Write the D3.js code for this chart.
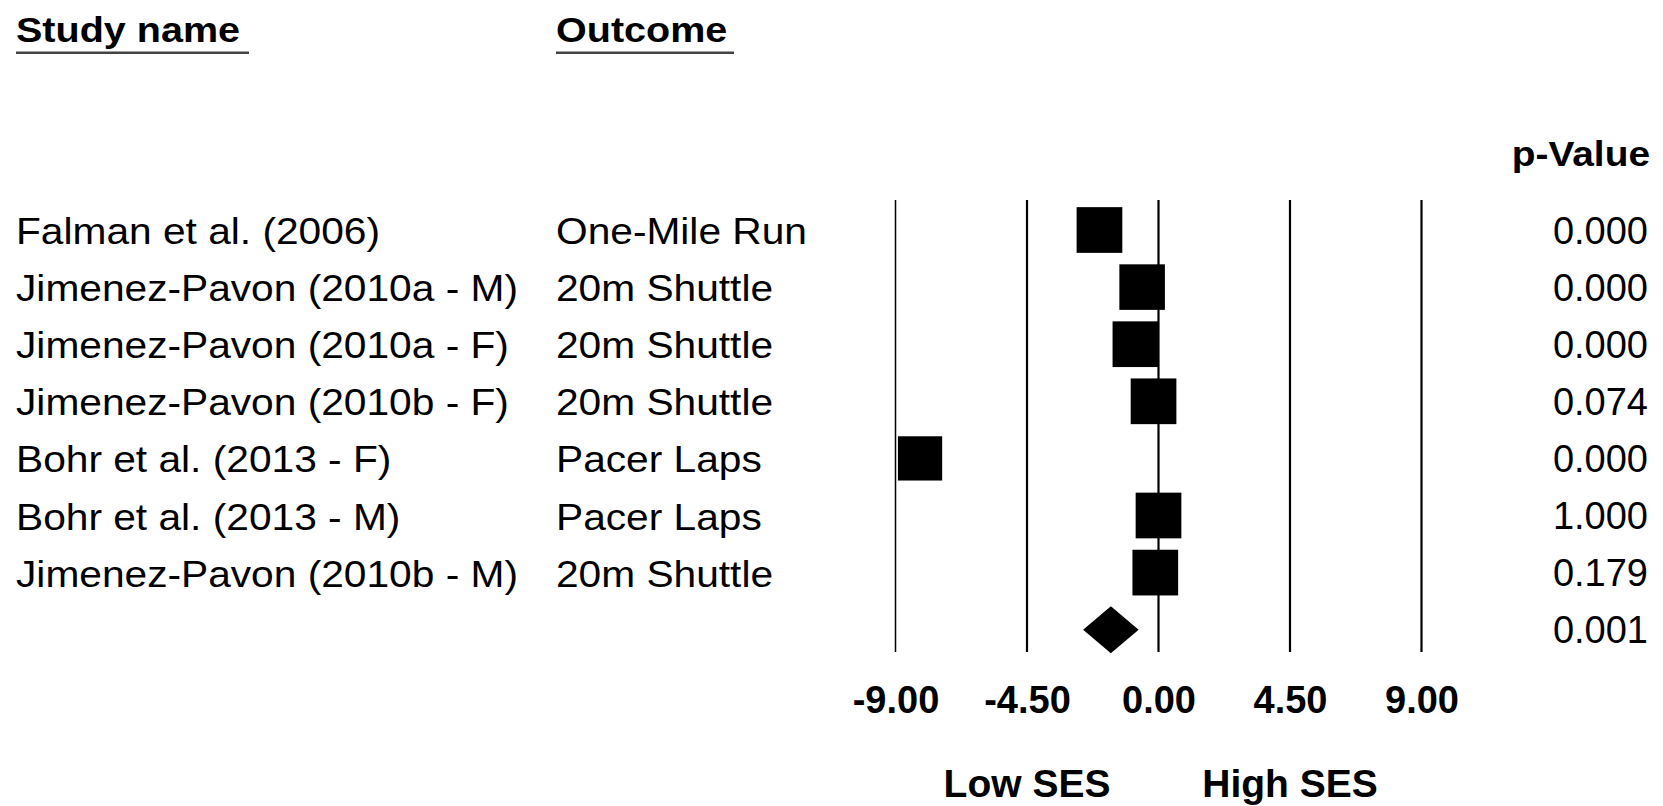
<!DOCTYPE html>
<html lang='en'>
  <head>
    <meta charset='utf-8'>
    <style type='text/css'>
      body {margin: 0; background-color: #fff;}
      svg text {font-family: Arial, "Liberation Sans", sans-serif; fill: #000;}
    </style>
  </head>
  <body>
    <svg id='chart' width='1663' height='806'></svg>

    <script src='https://cdnjs.cloudflare.com/ajax/libs/d3/7.8.5/d3.min.js'></script>
    <script type='text/javascript'>
        // study rows (top to bottom)
        var studies  = ["Falman et al. (2006)", "Jimenez-Pavon (2010a - M)", "Jimenez-Pavon (2010a - F)",
                        "Jimenez-Pavon (2010b - F)", "Bohr et al. (2013 - F)", "Bohr et al. (2013 - M)",
                        "Jimenez-Pavon (2010b - M)"];
        var outcomes = ["One-Mile Run", "20m Shuttle", "20m Shuttle", "20m Shuttle",
                        "Pacer Laps", "Pacer Laps", "20m Shuttle"];
        var effects  = [-2.02, -0.56, -0.79, -0.17, -8.16, 0.00, -0.11];
        var weights  = [14.5, 14.4, 14.5, 14.5, 13.6, 14.5, 14.5];
        var pValues  = ["0.000", "0.000", "0.000", "0.074", "0.000", "1.000", "0.179"];

        // combined effect
        var summary  = {est: -1.63, lower: -2.58, upper: -0.68, p: "0.001"};

        var ticks    = [-9, -4.5, 0, 4.5, 9];

        var svg = d3.select("#chart");

        var x = d3.scaleLinear().domain([-9, 9]).range([895.5, 1421.5]);
        var y = d3.scaleLinear().domain([0, 1]).range([230, 287.1]);
        var side = d3.scaleSqrt().domain([0, 14.5]).range([0, 45.7]);

        // column headers
        var headers = [{t: "Study name", x: 16, w: 233}, {t: "Outcome", x: 556, w: 178}];
        headers.forEach(function(h) {
          svg.append("text")
            .attr("transform", "translate(" + h.x + ",41.7) scale(1.13,1)")
            .attr("font-size", 35).attr("font-weight", "bold")
            .text(h.t);
          svg.append("line")
            .attr("x1", h.x).attr("x2", h.x + h.w)
            .attr("y1", 52.7).attr("y2", 52.7)
            .attr("stroke", "#444").attr("stroke-width", 2.5);
        });

        svg.append("text")
          .attr("transform", "translate(1650,166) scale(1.11,1)")
          .attr("font-size", 35).attr("font-weight", "bold")
          .attr("text-anchor", "end")
          .text("p-Value");

        // vertical reference lines
        svg.selectAll("line.grid").data(ticks).enter().append("line")
          .attr("class", "grid")
          .attr("x1", x).attr("x2", x)
          .attr("y1", 200).attr("y2", 652)
          .attr("stroke", "#000")
          .attr("stroke-width", function(d) { return d === -9 ? 1.5 : 2.2; });

        // row labels
        var rows = svg.selectAll("g.row").data(studies).enter().append("g")
          .attr("class", "row");

        rows.append("text")
          .attr("transform", function(d, i) { return "translate(16," + (y(i) + 14) + ") scale(1.1,1)"; })
          .attr("font-size", 37)
          .text(function(d) { return d; });

        rows.append("text")
          .attr("transform", function(d, i) { return "translate(556," + (y(i) + 14) + ") scale(1.1,1)"; })
          .attr("font-size", 37)
          .text(function(d, i) { return outcomes[i]; });

        // study boxes
        svg.selectAll("rect.box").data(effects).enter().append("rect")
          .attr("class", "box")
          .attr("x", function(d, i) { return x(d) - side(weights[i]) / 2; })
          .attr("y", function(d, i) { return y(i) - side(weights[i]) / 2; })
          .attr("width", function(d, i) { return side(weights[i]); })
          .attr("height", function(d, i) { return side(weights[i]); })
          .attr("fill", "#000");

        // summary diamond
        var sy = y(studies.length);
        svg.append("path")
          .attr("d", "M" + x(summary.lower) + "," + sy +
                     "L" + x(summary.est) + "," + (sy - 23.5) +
                     "L" + x(summary.upper) + "," + sy +
                     "L" + x(summary.est) + "," + (sy + 23.5) + "Z")
          .attr("fill", "#000");

        // p-values
        svg.selectAll("text.p").data(pValues.concat([summary.p])).enter().append("text")
          .attr("class", "p")
          .attr("x", 1648)
          .attr("y", function(d, i) { return y(i) + 13.5; })
          .attr("font-size", 38)
          .attr("text-anchor", "end")
          .text(function(d) { return d; });

        // x axis labels
        var axis = d3.axisBottom(x).tickValues(ticks).tickSize(0)
          .tickFormat(function(d) { return (d < 0 ? "-" : "") + Math.abs(d).toFixed(2); });
        var ax = svg.append("g").attr("transform", "translate(0,713)").call(axis);
        ax.select(".domain").remove();
        ax.selectAll("text")
          .attr("y", 0).attr("dy", 0)
          .attr("font-size", 38).attr("font-weight", "bold")
          .attr("font-family", "Arial, 'Liberation Sans', sans-serif")
          .style("fill", "#000");

        // direction labels
        svg.append("text")
          .attr("x", x(-4.5)).attr("y", 797)
          .attr("font-size", 39).attr("font-weight", "bold")
          .attr("text-anchor", "middle")
          .text("Low SES");
        svg.append("text")
          .attr("x", x(4.5)).attr("y", 797)
          .attr("font-size", 39).attr("font-weight", "bold")
          .attr("text-anchor", "middle")
          .text("High SES");
    </script>
  </body>
</html>
